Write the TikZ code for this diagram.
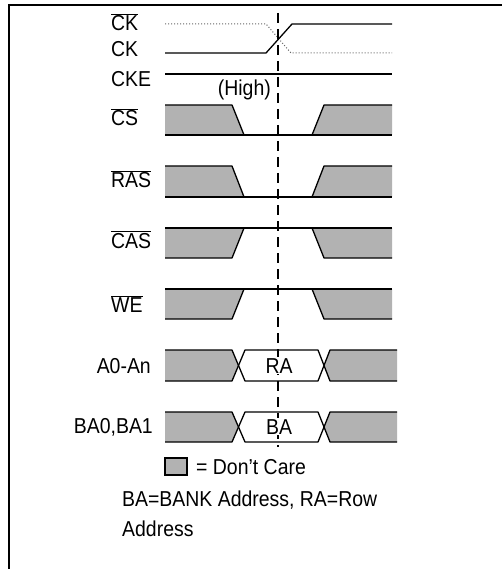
\documentclass[tikz,border=0pt]{standalone}
\usepackage{fontspec}
\setmainfont[FakeStretch=0.9]{Liberation Sans}
\newcommand\ovl[1]{$\overline{\mbox{#1}}$}
\begin{document}
\begin{tikzpicture}[x=1pt,y=-1pt,
  lbl/.style={font=\fontsize{21.6}{25}\selectfont, inner sep=0pt},
  sig/.style={line width=1.3pt, line join=round},
  dc/.style={fill=black!30},
  border/.style={line width=2.6pt},
  vdash/.style={line width=1.5pt, dash pattern=on 10pt off 6pt},
  ckdot/.style={line width=1pt, dotted, black!60}]
\useasboundingbox (0,0) rectangle (502,569);
\draw[border] (9,569) -- (9,5) -- (502,5);

% labels
\node[lbl, anchor=base west] (lckn) at (111,31) {\ovl{CK}};
\node[lbl, anchor=base west] (lck) at (111,57) {CK};
\node[lbl, anchor=base west] (lcke) at (111,87) {CKE};
\node[lbl, anchor=base west] (lcs) at (111,126) {\ovl{CS}};
\node[lbl, anchor=base west] (lras) at (111,188) {\ovl{RAS}};
\node[lbl, anchor=base west] (lcas) at (111,248) {\ovl{CAS}};
\node[lbl, anchor=base west] (lwe) at (111,312) {\ovl{WE}};
\node[lbl, anchor=base east] (la) at (151,373) {A0-An};
\node[lbl, anchor=base east] (lba) at (153,433) {BA0,BA1};
\node[lbl, anchor=base east] (high) at (271,96) {(High)};

% clocks
\draw[ckdot] (165,24) -- (266,24) -- (291,53) -- (392,53);
\draw[sig] (165,53) -- (266,53) -- (292,24) -- (392,24);
\draw[sig] (165,74) -- (392,74);

% CS, RAS (go low)
\foreach \t/\b in {105/135, 166/197}{
  \fill[dc] (165,\t) -- (232,\t) -- (244,\b) -- (165,\b) -- cycle;
  \fill[dc] (324,\t) -- (392,\t) -- (392,\b) -- (312,\b) -- cycle;
  \draw[sig] (165,\t) -- (232,\t) -- (244,\b);
  \draw[sig] (312,\b) -- (324,\t) -- (392,\t);
  \draw[sig] (165,\b) -- (392,\b);
}
% CAS, WE (stay high)
\foreach \t/\b in {228/258, 289/319}{
  \fill[dc] (165,\t) -- (244,\t) -- (232,\b) -- (165,\b) -- cycle;
  \fill[dc] (312,\t) -- (392,\t) -- (392,\b) -- (324,\b) -- cycle;
  \draw[sig] (165,\t) -- (392,\t);
  \draw[sig] (165,\b) -- (232,\b) -- (244,\t);
  \draw[sig] (312,\t) -- (324,\b) -- (392,\b);
}
% address buses
\foreach \t/\b in {350/381, 412/442}{
  \fill[dc] (165,\t) -- (232,\t) -- (238.5,{(\t+\b)/2}) -- (232,\b) -- (165,\b) -- cycle;
  \fill[dc] (397,\t) -- (330,\t) -- (324,{(\t+\b)/2}) -- (330,\b) -- (397,\b) -- cycle;
  \draw[sig] (165,\t) -- (232,\t) -- (245,\b) -- (318,\b) -- (330,\t) -- (397,\t);
  \draw[sig] (165,\b) -- (232,\b) -- (245,\t) -- (318,\t) -- (330,\b) -- (397,\b);
}

% reference edge
\coordinate (dtop) at (278,13);
\coordinate (dbot) at (278,447);
\draw[vdash] (dtop) -- (dbot);

\node[lbl, anchor=base, fill=white, inner sep=1pt] (ra) at (279,373) {RA};
\node[lbl, anchor=base, fill=white, inner sep=1pt] (ba) at (279,434) {BA};

% legend
\draw[dc, line width=1.2pt] (165,458) rectangle (187,475);
\node[lbl, anchor=base west] (dcare) at (196,474) {= Don't Care};
\node[lbl, anchor=base west] (note1) at (122,506) {BA=BANK Address, RA=Row};
\node[lbl, anchor=base west] (note2) at (122,536) {Address};
\end{tikzpicture}
\end{document}
